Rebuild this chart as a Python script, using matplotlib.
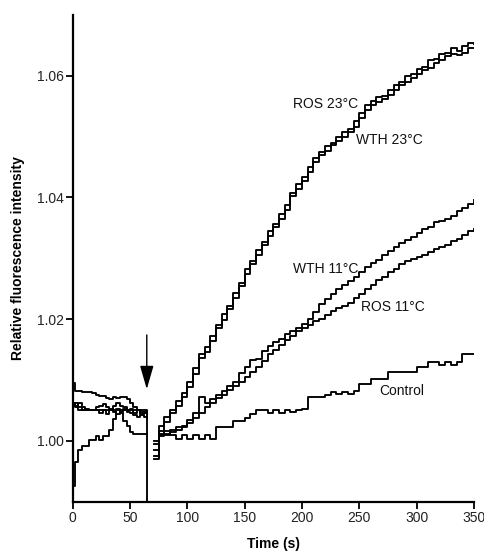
import matplotlib
matplotlib.use("Agg")
import matplotlib.pyplot as plt

plt.rcParams['font.family'] = ['Liberation Sans', 'DejaVu Sans']

# ---- data ----
# before injection (arrow at ~65 s)
pre_time = [0, 2, 5, 8, 11, 14, 17, 20, 23, 26, 29, 32, 35, 38, 41, 44, 47, 50, 53, 56, 59, 62, 65]
ros23_pre = [1.0095, 1.0082, 1.0082, 1.0081, 1.0081, 1.0081, 1.0078, 1.0076, 1.0074, 1.0073, 1.0071, 1.0069,
             1.0072, 1.0070, 1.0072, 1.0072, 1.0068, 1.0062, 1.0056, 1.0050, 1.0048, 1.0046, 1.0045]
wth23_pre = [1.0062, 1.0055, 1.0051, 1.0051, 1.0051, 1.0051, 1.0051, 1.0051, 1.0051, 1.0051, 1.0051, 1.0051,
             1.0051, 1.0051, 1.0051, 1.0051, 1.0051, 1.0051, 1.0051, 1.0051, 1.0051, 1.0051, 0.9890]
wth11_pre = [1.0062, 1.0058, 1.0062, 1.0055, 1.0050, 1.0050, 1.0050, 1.0050, 1.0046, 1.0050, 1.0044, 1.0050,
             1.0058, 1.0062, 1.0058, 1.0055, 1.0048, 1.0045, 1.0042, 1.0040, 1.0042, 1.0040, 1.0038]
ros11_pre = [1.0058, 1.0063, 1.0055, 1.0050, 1.0052, 1.0050, 1.0050, 1.0055, 1.0058, 1.0060, 1.0056, 1.0052,
             1.0048, 1.0044, 1.0048, 1.0052, 1.0050, 1.0052, 1.0046, 1.0050, 1.0044, 1.0048, 1.0044]
control_pre = [0.9926, 0.9965, 0.9985, 0.9992, 0.9992, 1.0001, 1.0001, 1.0008, 1.0001, 1.0008, 1.0008, 1.0018,
               1.0036, 1.0052, 1.0045, 1.0032, 1.0025, 1.0015, 1.0011, 1.0011, 1.0011, 1.0011, 1.0011]

# after injection
post_time = [71] + list(range(75, 351, 5))
ros23_post = [0.9970, 1.0024, 1.0040, 1.0050, 1.0066, 1.0078, 1.0096, 1.0120, 1.0142, 1.0155,
              1.0172, 1.0190, 1.0208, 1.0222, 1.0243, 1.0260, 1.0282, 1.0295, 1.0314, 1.0327,
              1.0345, 1.0357, 1.0372, 1.0388, 1.0408, 1.0422, 1.0433, 1.0450, 1.0465, 1.0475,
              1.0485, 1.0490, 1.0500, 1.0507, 1.0513, 1.0525, 1.0538, 1.0552, 1.0558, 1.0565,
              1.0567, 1.0576, 1.0585, 1.0590, 1.0600, 1.0603, 1.0611, 1.0615, 1.0625, 1.0628,
              1.0635, 1.0637, 1.0645, 1.0640, 1.0648, 1.0653, 1.0652]
wth23_post = [0.9985, 1.0016, 1.0031, 1.0045, 1.0058, 1.0072, 1.0088, 1.0110, 1.0136, 1.0146,
              1.0164, 1.0185, 1.0199, 1.0217, 1.0234, 1.0255, 1.0274, 1.0290, 1.0306, 1.0322,
              1.0336, 1.0351, 1.0364, 1.0380, 1.0402, 1.0414, 1.0427, 1.0441, 1.0459, 1.0469,
              1.0476, 1.0486, 1.0492, 1.0500, 1.0507, 1.0516, 1.0531, 1.0544, 1.0552, 1.0556,
              1.0561, 1.0568, 1.0576, 1.0585, 1.0590, 1.0597, 1.0603, 1.0609, 1.0613, 1.0621,
              1.0626, 1.0632, 1.0636, 1.0634, 1.0638, 1.0645, 1.0646]
wth11_post = [1.0000, 1.0012, 1.0016, 1.0018, 1.0022, 1.0024, 1.0035, 1.0045, 1.0072, 1.0062,
              1.0068, 1.0075, 1.0082, 1.0090, 1.0097, 1.0112, 1.0122, 1.0133, 1.0135, 1.0147,
              1.0156, 1.0162, 1.0168, 1.0175, 1.0180, 1.0186, 1.0192, 1.0201, 1.0212, 1.0225,
              1.0233, 1.0242, 1.0250, 1.0256, 1.0263, 1.0270, 1.0278, 1.0285, 1.0292, 1.0297,
              1.0305, 1.0312, 1.0318, 1.0325, 1.0330, 1.0335, 1.0342, 1.0348, 1.0352, 1.0360,
              1.0362, 1.0365, 1.0370, 1.0378, 1.0382, 1.0390, 1.0395]
ros11_post = [0.9995, 1.0010, 1.0012, 1.0015, 1.0018, 1.0022, 1.0030, 1.0038, 1.0045, 1.0055,
              1.0062, 1.0070, 1.0076, 1.0083, 1.0090, 1.0097, 1.0105, 1.0113, 1.0122, 1.0132,
              1.0142, 1.0150, 1.0158, 1.0165, 1.0172, 1.0180, 1.0186, 1.0191, 1.0197, 1.0201,
              1.0207, 1.0213, 1.0218, 1.0222, 1.0227, 1.0234, 1.0242, 1.0250, 1.0256, 1.0264,
              1.0270, 1.0277, 1.0283, 1.0290, 1.0295, 1.0298, 1.0302, 1.0306, 1.0310, 1.0315,
              1.0318, 1.0322, 1.0328, 1.0332, 1.0338, 1.0345, 1.0348]
control_post = [0.9975, 1.0008, 1.0009, 1.0009, 1.0003, 1.0009, 1.0003, 1.0009, 1.0003, 1.0009,
                1.0003, 1.0023, 1.0023, 1.0023, 1.0033, 1.0033, 1.0038, 1.0044, 1.0050, 1.0050,
                1.0045, 1.0050, 1.0045, 1.0050, 1.0047, 1.0050, 1.0052, 1.0072, 1.0072, 1.0072,
                1.0075, 1.0080, 1.0077, 1.0080, 1.0077, 1.0082, 1.0093, 1.0093, 1.0102, 1.0102,
                1.0102, 1.0113, 1.0113, 1.0113, 1.0113, 1.0113, 1.0121, 1.0121, 1.0129, 1.0129,
                1.0124, 1.0129, 1.0124, 1.0129, 1.0143, 1.0143, 1.0143]

labels = ['ROS 23°C', 'WTH 23°C', 'WTH 11°C', 'ROS 11°C', 'Control']
label_pos = [(221, 1.0553), (276, 1.0494), (221, 1.0283), (279, 1.0220), (287, 1.0082)]
injection_time = 64.6

pre = [ros23_pre, wth23_pre, wth11_pre, ros11_pre, control_pre]
post = [ros23_post, wth23_post, wth11_post, ros11_post, control_post]

fig = plt.figure(figsize=(4.85, 5.52), dpi=100)
ax = fig.add_axes([0.150, 0.0911, 0.827, 0.882])

for y_pre, y_post in zip(pre, post):
    ax.plot(pre_time, y_pre, drawstyle='steps-post', color='black', lw=1.35)
    ax.plot(post_time, y_post, drawstyle='steps-post', color='black', lw=1.35)

for lab, (tx, ty) in zip(labels, label_pos):
    ax.text(tx, ty, lab, ha='center', va='center', fontsize=10, color='#111111')

# injection arrow
ax.annotate('', xy=(injection_time, 1.0085), xytext=(injection_time, 1.0174),
            arrowprops=dict(arrowstyle='-|>,head_length=1.45,head_width=0.42',
                            mutation_scale=10, lw=1.0, color='black',
                            shrinkA=0, shrinkB=0))

ax.set_xlim(0, 350)
ax.set_ylim(0.99, 1.07)
ax.set_xticks([0, 50, 100, 150, 200, 250, 300, 350])
ax.set_yticks([1.00, 1.02, 1.04, 1.06])
ax.set_yticklabels(['1.00', '1.02', '1.04', '1.06'])

for side in ['top', 'right']:
    ax.spines[side].set_visible(False)
for side in ['left', 'bottom']:
    ax.spines[side].set_linewidth(1.6)

ax.tick_params(direction='out', length=5, width=1.3, pad=1.5, labelsize=10, labelcolor='#222222')

ax.set_xlabel('Time (s)', fontsize=10, fontweight='bold')
ax.set_ylabel('Relative fluorescence intensity', fontsize=10, fontweight='bold')
ax.xaxis.set_label_coords(0.5, -0.072)
ax.yaxis.set_label_coords(-0.118, 0.5)

fig.savefig('out.png', dpi=100)
